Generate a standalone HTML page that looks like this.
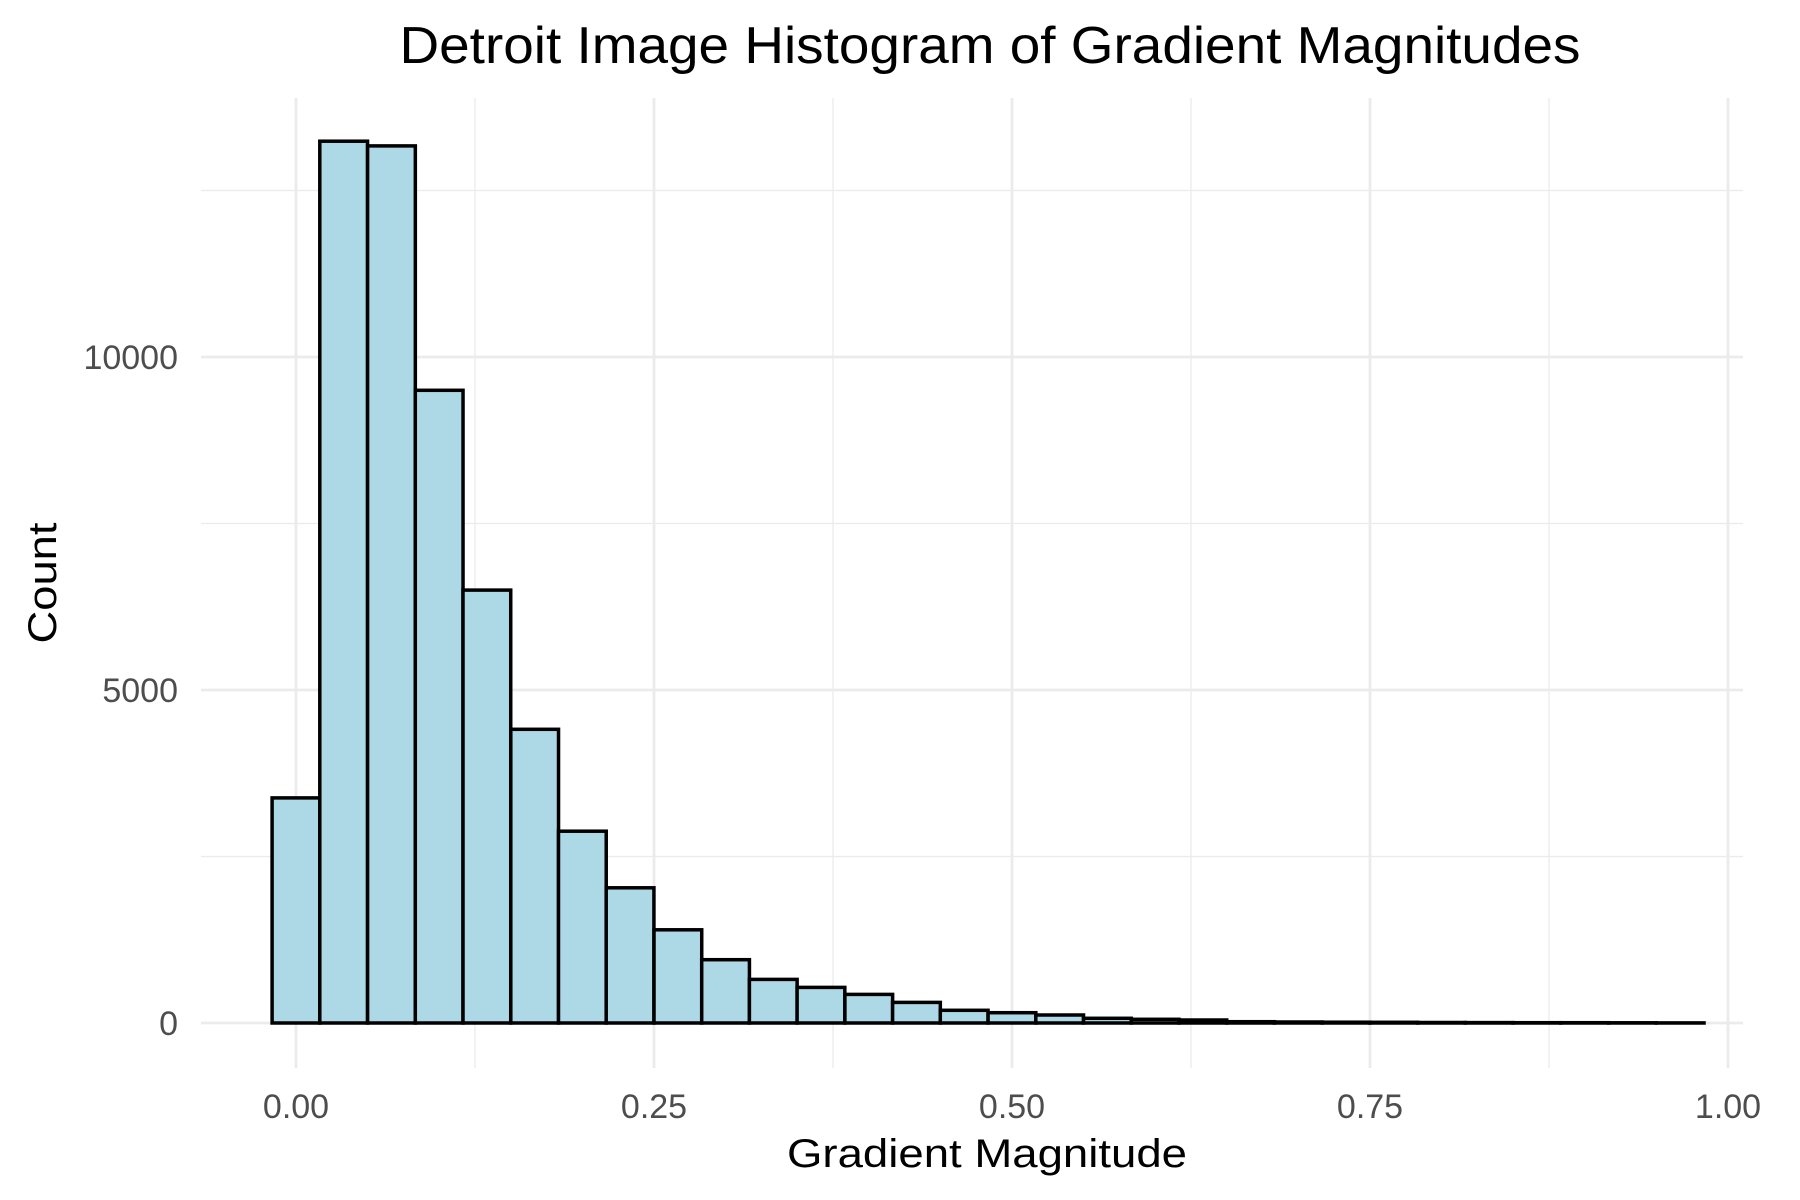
<!DOCTYPE html>
<html><head><meta charset="utf-8"><style>html,body{margin:0;padding:0;background:#fff}svg{display:block}</style></head>
<body>
<svg width="1800" height="1200" viewBox="0 0 1800 1200" xmlns="http://www.w3.org/2000/svg" font-family="Liberation Sans, sans-serif">
<rect width="1800" height="1200" fill="#fff"/>
<g stroke="#ebebeb" stroke-width="1.3">
<line x1="201" x2="1743" y1="856.5" y2="856.5"/><line x1="201" x2="1743" y1="523.5" y2="523.5"/><line x1="201" x2="1743" y1="190.5" y2="190.5"/>
<line x1="475" x2="475" y1="98" y2="1068"/><line x1="833" x2="833" y1="98" y2="1068"/><line x1="1191" x2="1191" y1="98" y2="1068"/><line x1="1549" x2="1549" y1="98" y2="1068"/>
</g>
<g stroke="#ebebeb" stroke-width="2.8">
<line x1="201" x2="1743" y1="1023" y2="1023"/><line x1="201" x2="1743" y1="690" y2="690"/><line x1="201" x2="1743" y1="357" y2="357"/>
<line x1="296" x2="296" y1="98" y2="1068"/><line x1="654" x2="654" y1="98" y2="1068"/><line x1="1012" x2="1012" y1="98" y2="1068"/><line x1="1370" x2="1370" y1="98" y2="1068"/><line x1="1728" x2="1728" y1="98" y2="1068"/>
</g>
<g fill="#add8e6" stroke="#000" stroke-width="3.5">
<rect x="272.1" y="797.9" width="47.73" height="225.1"/>
<rect x="319.8" y="141.2" width="47.73" height="881.8"/>
<rect x="367.6" y="145.9" width="47.73" height="877.1"/>
<rect x="415.3" y="390.3" width="47.73" height="632.7"/>
<rect x="463.0" y="590.1" width="47.73" height="432.9"/>
<rect x="510.8" y="729.3" width="47.73" height="293.7"/>
<rect x="558.5" y="831.2" width="47.73" height="191.8"/>
<rect x="606.2" y="887.8" width="47.73" height="135.2"/>
<rect x="654.0" y="929.8" width="47.73" height="93.2"/>
<rect x="701.7" y="959.7" width="47.73" height="63.3"/>
<rect x="749.4" y="979.4" width="47.73" height="43.6"/>
<rect x="797.1" y="987.4" width="47.73" height="35.6"/>
<rect x="844.9" y="994.4" width="47.73" height="28.6"/>
<rect x="892.6" y="1002.4" width="47.73" height="20.6"/>
<rect x="940.3" y="1010.3" width="47.73" height="12.7"/>
<rect x="988.1" y="1012.7" width="47.73" height="10.3"/>
<rect x="1035.8" y="1015.0" width="47.73" height="8.0"/>
<rect x="1083.5" y="1018.3" width="47.73" height="4.7"/>
<rect x="1131.2" y="1019.3" width="47.73" height="3.7"/>
<rect x="1179.0" y="1020.0" width="47.73" height="3.0"/>
<rect x="1226.7" y="1021.7" width="47.73" height="1.3"/>
<rect x="1274.4" y="1022.0" width="47.73" height="1.0"/>
<rect x="1322.2" y="1022.2" width="47.73" height="0.8"/>
<rect x="1369.9" y="1022.3" width="47.73" height="0.7"/>
<rect x="1417.6" y="1022.5" width="47.73" height="0.5"/>
<rect x="1465.3" y="1022.6" width="47.73" height="0.4"/>
<rect x="1513.1" y="1022.7" width="47.73" height="0.3"/>
<rect x="1560.8" y="1022.7" width="47.73" height="0.3"/>
<rect x="1608.5" y="1022.8" width="47.73" height="0.2"/>
<rect x="1656.3" y="1022.9" width="47.73" height="0.1"/>
</g>
<g fill="#4d4d4d" font-size="34" text-anchor="end">
<text x="178" y="369">10000</text><text x="178" y="702">5000</text><text x="178" y="1035">0</text>
</g>
<g fill="#4d4d4d" font-size="34" text-anchor="middle">
<text x="296" y="1118">0.00</text><text x="654" y="1118">0.25</text><text x="1012" y="1118">0.50</text><text x="1370" y="1118">0.75</text><text x="1728" y="1118">1.00</text>
</g>
<text x="990" y="63" font-size="52" text-anchor="middle" textLength="1181" lengthAdjust="spacingAndGlyphs">Detroit Image Histogram of Gradient Magnitudes</text>
<text x="987" y="1167" font-size="40" text-anchor="middle" textLength="400" lengthAdjust="spacingAndGlyphs">Gradient Magnitude</text>
<text transform="translate(56,583) rotate(-90)" font-size="40" text-anchor="middle" textLength="121" lengthAdjust="spacingAndGlyphs">Count</text>
</svg>
</body></html>
